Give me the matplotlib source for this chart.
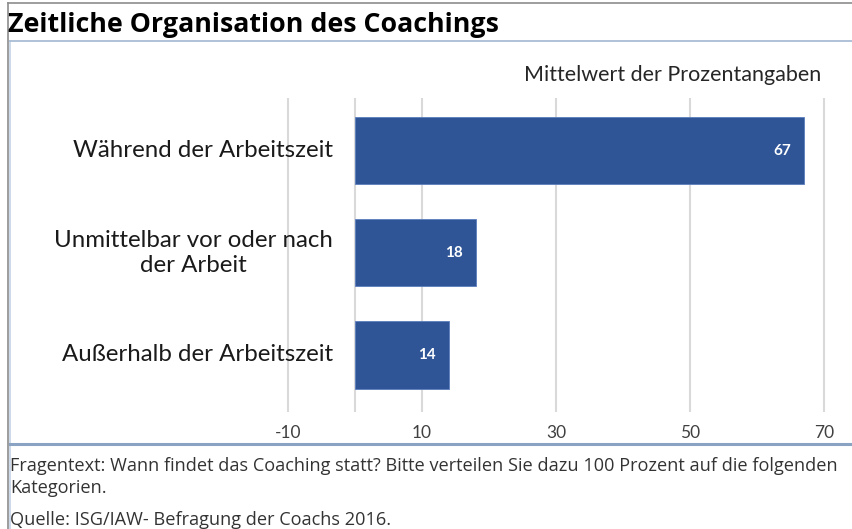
import matplotlib
matplotlib.use("Agg")
import matplotlib.pyplot as plt
from matplotlib.lines import Line2D

categories = ["Während der Arbeitszeit", "Unmittelbar vor oder nach\nder Arbeit", "Außerhalb der Arbeitszeit"]
values = [67, 18, 14]
tick_values = [-10, 10, 30, 50, 70]
grid_values = [-10, 0, 10, 30, 50, 70]

title = "Zeitliche Organisation des Coachings"
axis_title = "Mittelwert der Prozentangaben"
footer1 = "Fragentext: Wann findet das Coaching statt? Bitte verteilen Sie dazu 100 Prozent auf die folgenden\nKategorien."
footer2 = "Quelle: ISG/IAW- Befragung der Coachs 2016."

W, H = 852, 529
fig = plt.figure(figsize=(W / 100, H / 100), dpi=100)
fig.patch.set_facecolor("white")

def fx(px):
    return px / W

def fy(py):
    return 1 - py / H

ax_left, ax_right, ax_top, ax_bottom = 260, 852, 98, 412
ax = fig.add_axes([fx(ax_left), fy(ax_bottom), (ax_right - ax_left) / W, (ax_bottom - ax_top) / H])
scale = 6.7  # px per unit
zero_px = 355
ax.set_xlim((ax_left - zero_px) / scale, (ax_right - zero_px) / scale)
ax.set_ylim(2.56, -0.515)
ax.axis("off")

for g in grid_values:
    ax.axvline(g, color="#d9d9d9", lw=1.5, zorder=0)

ypos = list(range(len(categories)))
ax.barh(ypos, values, height=0.66, color="#2F5597", edgecolor="#5b7dbd", linewidth=0.6, zorder=2)
for y, v in zip(ypos, values):
    ax.annotate(str(v), (v, y), xytext=(-22, 0), textcoords="offset pixels",
                ha="center", va="center", color="white", fontsize=11, fontweight="bold",
                family="Lato", zorder=3)

for y, c in zip(ypos, categories):
    ax.annotate(c, (0, y), xytext=(-22, 0), textcoords="offset pixels", ha="right", va="center",
                fontsize=17.3, family="Lato", color="#1a1a1a", multialignment="center",
                linespacing=1.25, annotation_clip=False)

for t in tick_values:
    fig.text(fx(zero_px + t * scale), fy(433), str(t), ha="center", va="center",
             fontsize=12.5, family="Lato", color="#404040")

fig.text(fx(673), fy(75), axis_title, ha="center", va="center", fontsize=15.5,
         family="Lato", color="#262626")

fig.add_artist(Line2D([fx(8), fx(8)], [fy(3), fy(529)], color="#8c8c8c", lw=1.2))
fig.add_artist(Line2D([fx(10), fx(10)], [fy(41), fy(529)], color="#c5d3e6", lw=1.2))
fig.add_artist(Line2D([fx(8), fx(852)], [fy(3), fy(3)], color="#8c8c8c", lw=1.2))
fig.add_artist(Line2D([fx(10), fx(852)], [fy(41), fy(41)], color="#a9bdd6", lw=1.3))
fig.add_artist(Line2D([fx(10), fx(852)], [fy(444), fy(444)], color="#8ba3c3", lw=2.2))

fig.text(fx(8), fy(25), title, ha="left", va="center", fontsize=19.3, fontweight="bold",
         family="Open Sans", color="black")

fig.text(fx(10), fy(457), footer1, ha="left", va="top", fontsize=13.1,
         family="Open Sans", color="#333333", linespacing=1.3)
fig.text(fx(10), fy(520), footer2, ha="left", va="center", fontsize=13.1,
         family="Open Sans", color="#333333")

fig.savefig("out.png", dpi=100)
